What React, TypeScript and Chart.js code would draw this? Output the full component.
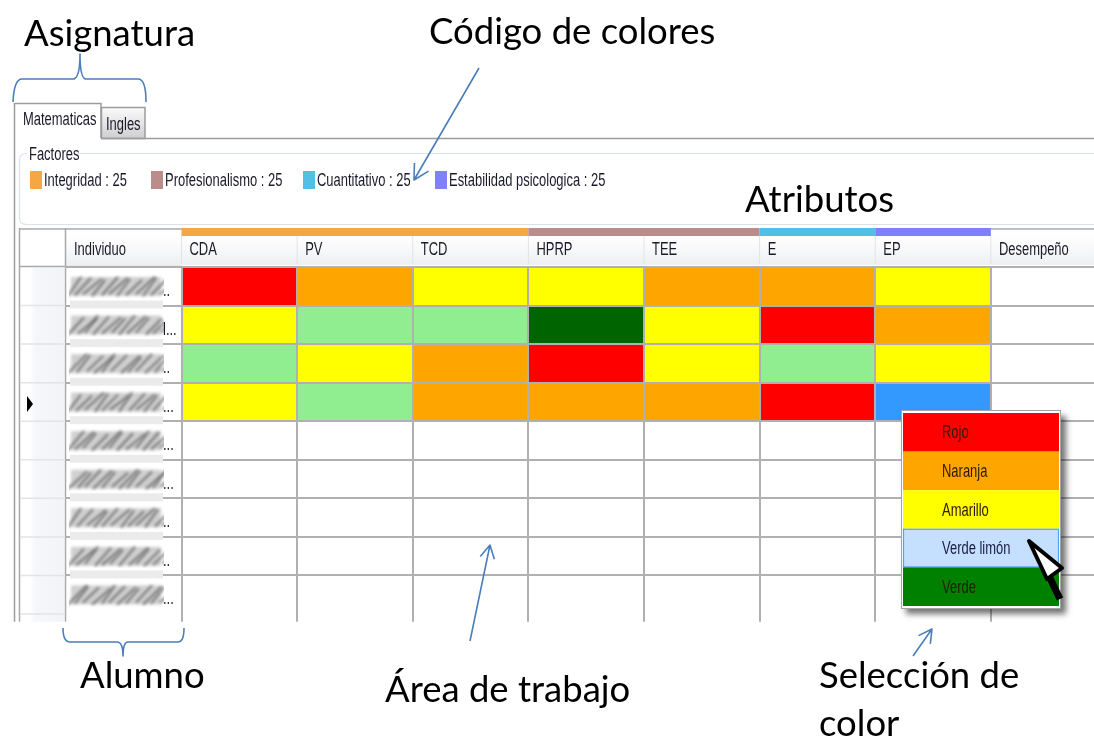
import React, { useEffect, useRef } from "react";
import { Chart, registerables } from "chart.js";

Chart.register(...registerables);

const columns = ["CDA", "PV", "TCD", "HPRP", "TEE", "E", "EP", "Desempeño"];
const row1 = ["Rojo", "Naranja", "Amarillo", "Amarillo", "Naranja", "Naranja", "Amarillo", null];
const row2 = ["Amarillo", "Verde limón", "Verde limón", "Verde", "Amarillo", "Rojo", "Naranja", null];
const row3 = ["Verde limón", "Amarillo", "Naranja", "Rojo", "Amarillo", "Verde limón", "Amarillo", null];
const row4 = ["Amarillo", "Verde limón", "Naranja", "Naranja", "Naranja", "Rojo", "Seleccion", null];
const emptyRow = [null, null, null, null, null, null, null, null];
const rows = [row1, row2, row3, row4, emptyRow, emptyRow, emptyRow, emptyRow, emptyRow];
const rowEllipsis = ["..", "l...", "..", "...", "...", "...", "..", "..", "..."];

const factorNames = ["Integridad : 25", "Profesionalismo : 25", "Cuantitativo : 25", "Estabilidad psicologica : 25"];
const factorColors = ["#F4A742", "#BC8B8B", "#52C0E4", "#8080FF"];
const factorSpans = [3, 2, 1, 1];

const menuItems = ["Rojo", "Naranja", "Amarillo", "Verde limón", "Verde"];
const menuColors = ["#FF0000", "#FFA500", "#FFFF00", "#C5E0FF", "#008000"];

const cellColors: Record<string, string> = {
  Rojo: "#FF0000",
  Naranja: "#FFA500",
  Amarillo: "#FFFF00",
  "Verde limón": "#90EE90",
  Verde: "#006400",
  Seleccion: "#3399FF",
};

const UI_FONT = '18px "Liberation Sans", sans-serif';
const LABEL = "#1a1a2a";
const BLUE = "#4A7EBB";
const GRID = "#B0B0B0";
const BIG = '36.5px Lato, "Open Sans", sans-serif';

function narrow(c: CanvasRenderingContext2D, s: string, x: number, y: number) {
  c.save();
  c.font = UI_FONT;
  c.textBaseline = "middle";
  c.translate(x, y);
  c.scale(0.72, 1);
  c.fillText(s, 0, 0);
  c.restore();
}

function arrow(c: CanvasRenderingContext2D, x1: number, y1: number, x2: number, y2: number, h: number) {
  const a = Math.atan2(y2 - y1, x2 - x1);
  c.strokeStyle = BLUE;
  c.lineWidth = 1.6;
  c.beginPath();
  c.moveTo(x1, y1);
  c.lineTo(x2, y2);
  c.moveTo(x2 - h * Math.cos(a - 0.5), y2 - h * Math.sin(a - 0.5));
  c.lineTo(x2, y2);
  c.lineTo(x2 - h * Math.cos(a + 0.5), y2 - h * Math.sin(a + 0.5));
  c.stroke();
}

const background = {
  id: "background",
  beforeDraw(chart: any) {
    const c: CanvasRenderingContext2D = chart.ctx;
    const xs = chart.scales.x;
    const ys = chart.scales.y;
    const bottom = chart.chartArea.bottom;
    const rowTop = (i: number) => ys.getPixelForValue(i);
    const colLeft = (i: number) => xs.getPixelForValue(i) - (xs.getPixelForValue(1) - xs.getPixelForValue(0)) / 2;
    c.save();
    c.fillStyle = "#fff";
    c.fillRect(0, 0, chart.width, chart.height);

    // tab page frame
    c.strokeStyle = "#9C9CA0";
    c.lineWidth = 1.5;
    const tabFill = c.createLinearGradient(0, 108, 0, 138);
    tabFill.addColorStop(0, "#FAFAFA");
    tabFill.addColorStop(1, "#CFCFCF");
    c.fillStyle = tabFill;
    c.fillRect(102, 108, 43, 30);
    c.strokeRect(101.5, 107.5, 43.5, 31);
    c.beginPath();
    c.moveTo(14.5, bottom);
    c.lineTo(14.5, 103.5);
    c.lineTo(101, 103.5);
    c.lineTo(101, 138);
    c.moveTo(101, 138.5);
    c.lineTo(chart.width, 138.5);
    c.stroke();

    c.fillStyle = LABEL;
    narrow(c, "Matematicas", 23, 120.5);
    narrow(c, "Ingles", 106, 125);

    // factor box
    c.strokeStyle = "#DCE3E8";
    c.lineWidth = 1.2;
    c.beginPath();
    c.moveTo(27, 153.5);
    c.quadraticCurveTo(19.5, 153.5, 19.5, 160);
    c.lineTo(19.5, 218);
    c.quadraticCurveTo(19.5, 224.5, 27, 224.5);
    c.lineTo(chart.width, 224.5);
    c.moveTo(78, 153.5);
    c.lineTo(chart.width, 153.5);
    c.stroke();
    c.fillStyle = LABEL;
    narrow(c, "Factores", 29, 155);

    const swatchX = [30, 151, 303, 435];
    factorNames.forEach((name, i) => {
      c.fillStyle = factorColors[i];
      c.fillRect(swatchX[i], 171, 12, 18);
      c.fillStyle = LABEL;
      narrow(c, name, swatchX[i] + 14, 181);
    });

    // grid header
    const headFill = c.createLinearGradient(0, 236, 0, 264);
    headFill.addColorStop(0, "#FFFFFF");
    headFill.addColorStop(1, "#EFF0F2");
    c.fillStyle = headFill;
    c.fillRect(66, 236, chart.width, 29);
    c.strokeStyle = "#A9A9A9";
    c.lineWidth = 1.5;
    c.beginPath();
    c.moveTo(19, 229);
    c.lineTo(182, 229);
    c.moveTo(colLeft(7), 229);
    c.lineTo(chart.width, 229);
    c.moveTo(19.5, 228);
    c.lineTo(19.5, bottom);
    c.moveTo(65.5, 228);
    c.lineTo(65.5, bottom);
    c.moveTo(19, 266.5);
    c.lineTo(182, 266.5);
    c.stroke();

    // factor bands above the attribute columns
    let col = 0;
    factorSpans.forEach((span, i) => {
      c.fillStyle = factorColors[i];
      c.fillRect(colLeft(col), 228, colLeft(col + span) - colLeft(col), 8);
      col += span;
    });
    c.strokeStyle = "#E2E3E6";
    c.lineWidth = 1;
    c.beginPath();
    for (let i = 0; i <= columns.length; i++) {
      c.moveTo(colLeft(i), 236);
      c.lineTo(colLeft(i), 264);
    }
    c.stroke();

    // column names, taken from the category scale
    c.fillStyle = LABEL;
    columns.forEach((name, i) => {
      narrow(c, xs.getLabelForValue(i), colLeft(i) + 8, 250);
    });

    // row header
    const rowFill = c.createLinearGradient(30, 0, 62, 0);
    rowFill.addColorStop(0, "#FFFFFF");
    rowFill.addColorStop(0.15, "#F6F7FA");
    rowFill.addColorStop(1, "#F3F4F7");
    c.fillStyle = rowFill;
    c.fillRect(31, 268, 33, bottom - 268);
    c.strokeStyle = "#E3E4E7";
    c.lineWidth = 1.5;
    c.beginPath();
    for (let i = 1; i <= rows.length; i++) {
      c.moveTo(20, rowTop(i));
      c.lineTo(64, rowTop(i));
    }
    c.stroke();
    c.fillStyle = "#000";
    c.beginPath();
    c.moveTo(27, 396);
    c.lineTo(33, 404);
    c.lineTo(27, 412);
    c.closePath();
    c.fill();
    c.restore();
  },
};

const overlay = {
  id: "overlay",
  afterDraw(chart: any) {
    const c: CanvasRenderingContext2D = chart.ctx;
    const ys = chart.scales.y;
    const rowTop = (i: number) => ys.getPixelForValue(i);
    c.save();

    // Individuo column, names obscured in the source
    c.fillStyle = LABEL;
    narrow(c, "Individuo", 74, 250);
    rows.forEach((_, i) => {
      c.fillStyle = LABEL;
      narrow(c, rowEllipsis[i], 163, rowTop(i) + 24);
    });
    rows.forEach((_, i) => {
      const top = rowTop(i);
      c.fillStyle = "#FFF";
      c.fillRect(70, top + 3, 93, 32);
      if (i > 0) {
        c.fillStyle = "#EBEBEB";
        c.fillRect(70, top - 5, 93, 8);
      }
      c.save();
      c.beginPath();
      c.rect(69, top + 6, 95, 26);
      c.clip();
      c.filter = "blur(1.8px)";
      c.fillStyle = "#D0D0D0";
      c.fillRect(71, top + 10, 90, 19);
      c.strokeStyle = "#6E6E6E";
      c.lineWidth = 2;
      let x = 68;
      let j = 0;
      while (x < 164) {
        c.beginPath();
        c.moveTo(x, top + 29 - (j % 3));
        c.lineTo(x + 13 + ((i + j) % 3) * 3, top + 10 + ((i * 2 + j) % 4));
        c.stroke();
        x += 7 + ((i * 3 + j * 5) % 4);
        j++;
      }
      c.restore();
    });

    // colour menu
    const mx = 903, my = 413, mw = 156, mh = 38.6;
    c.save();
    c.shadowColor = "rgba(0,0,0,0.55)";
    c.shadowBlur = 6;
    c.shadowOffsetX = 5;
    c.shadowOffsetY = 5;
    c.fillStyle = "#FFF";
    c.fillRect(901, 410.5, 160, 198);
    c.restore();
    c.strokeStyle = "#A5A5A5";
    c.lineWidth = 1;
    c.strokeRect(901.5, 410.5, 159, 198);
    menuItems.forEach((item, i) => {
      c.fillStyle = menuColors[i];
      c.fillRect(mx, my + i * mh, mw, mh);
      if (item === "Verde limón") {
        c.strokeStyle = "#4DA3F5";
        c.lineWidth = 1.2;
        c.strokeRect(mx + 0.5, my + i * mh + 0.5, mw - 1, mh - 1);
      }
      c.fillStyle = i === 3 ? "#1A1A40" : "#2A1A00";
      narrow(c, item, 942, my + i * mh + 20.5);
    });

    // pointer
    c.strokeStyle = "#000";
    c.lineCap = "butt";
    c.lineWidth = 7;
    c.beginPath();
    c.moveTo(1049, 576);
    c.lineTo(1060, 599);
    c.stroke();
    c.beginPath();
    c.moveTo(1029, 541);
    c.lineTo(1062, 568);
    c.lineTo(1047, 579);
    c.closePath();
    c.fillStyle = "#FFF";
    c.fill();
    c.lineWidth = 4;
    c.lineJoin = "round";
    c.stroke();

    // annotations
    c.fillStyle = "#000";
    c.textBaseline = "alphabetic";
    c.font = BIG;
    c.fillText("Asignatura", 24, 46);
    c.fillText("Código de colores", 429, 44);
    c.fillText("Atributos", 745, 212);
    c.fillText("Alumno", 80, 688);
    c.fillText("Área de trabajo", 385, 702);
    c.fillText("Selección de", 819, 688);
    c.fillText("color", 819, 736);

    // braces
    c.strokeStyle = BLUE;
    c.lineWidth = 1.6;
    c.beginPath();
    c.moveTo(13, 102);
    c.quadraticCurveTo(14, 79, 22, 79);
    c.lineTo(73, 79);
    c.quadraticCurveTo(80, 79, 80, 54);
    c.quadraticCurveTo(80, 79, 86, 79);
    c.lineTo(138, 79);
    c.quadraticCurveTo(146, 79, 146, 102);
    c.moveTo(63, 628);
    c.quadraticCurveTo(63, 642, 70, 642);
    c.lineTo(117, 642);
    c.quadraticCurveTo(123, 642, 123, 656);
    c.quadraticCurveTo(123, 642, 128, 642);
    c.lineTo(178, 642);
    c.quadraticCurveTo(184, 642, 184, 628);
    c.stroke();

    arrow(c, 479, 68, 414, 180, 17);
    arrow(c, 470, 641, 490, 545, 15);
    arrow(c, 913, 656, 932, 629, 15);
    c.restore();
  },
};

export default function App() {
  const ref = useRef<HTMLCanvasElement>(null);
  useEffect(() => {
    const chart = new Chart(ref.current as HTMLCanvasElement, {
      type: "bar",
      data: {
        labels: columns,
        datasets: rows.map((row, r) => ({
          label: `Fila ${r + 1}`,
          data: row.map((v) => (v ? [r, r + 1] : null)),
          backgroundColor: row.map((v) => (v ? cellColors[v] : "transparent")),
          grouped: false,
          barPercentage: 1,
          categoryPercentage: 1,
          borderSkipped: false,
          borderWidth: 0,
        })) as any,
      },
      options: {
        animation: false,
        responsive: false,
        layout: { padding: { left: 65, right: 1.5, top: 228, bottom: 116.3 } },
        plugins: { legend: { display: false }, tooltip: { enabled: false } },
        scales: {
          x: {
            position: "top",
            afterFit: (s: any) => {
              s.height = 39;
              s.paddingLeft = 0;
              s.paddingRight = 0;
            },
            border: { display: false },
            grid: { color: GRID, lineWidth: 2, z: 1, drawTicks: false },
            ticks: { display: false },
          },
          y: {
            reverse: true,
            min: 0,
            max: 9.2,
            afterFit: (s: any) => {
              s.width = 116.5;
            },
            afterBuildTicks: (s: any) => {
              s.ticks = s.ticks.filter((t: any) => Number.isInteger(t.value));
            },
            border: { display: false },
            grid: { color: GRID, tickColor: GRID, lineWidth: 2, tickLength: 116.5, z: 1 },
            ticks: { display: false, stepSize: 1 },
          },
        },
      },
      plugins: [background, overlay],
    } as any);
    return () => chart.destroy();
  }, []);
  return (
    <div style={{ position: "absolute", left: 0, top: 0, width: 1094, height: 738, overflow: "hidden", background: "#fff" }}>
      <canvas ref={ref} width={1108} height={738} style={{ display: "block" }} />
    </div>
  );
}
